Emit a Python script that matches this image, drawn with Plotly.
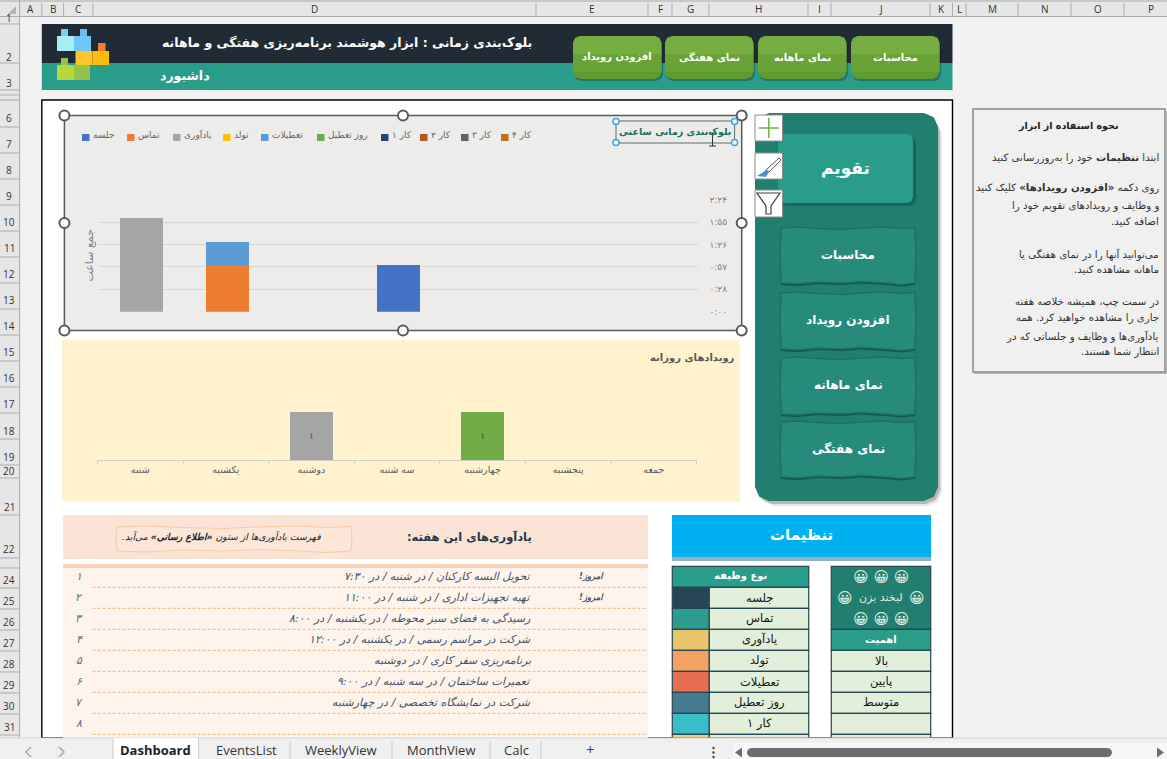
import plotly.graph_objects as go

W, H = 1167, 759
FONT = "DejaVu Sans"
UI_FONT = "Open Sans"
RLM = '\u200f'

# chart data
days = ['شنبه', 'یکشنبه', 'دوشنبه', 'سه شنبه', 'چهارشنبه', 'پنجشنبه', 'جمعه']
series_names = ['جلسه', 'تماس', 'یادآوری', 'تولد', 'تعطیلات', 'روز تعطیل', 'کار ۱', 'کار ۲', 'کار ۳', 'کار ۴']
series_colors = ['#4472c4', '#ed7d31', '#a5a5a5', '#ffc000', '#5b9bd5', '#70ad47', '#264478', '#b25c22', '#636363', '#b9721f']
meeting_hours = [0, 0, 0, 1, 0, 0, 0]
contact_hours = [0, 1, 0, 0, 0, 0, 0]
reminder_hours = [2, 0, 0, 0, 0, 0, 0]
birthday_hours = [0, 0, 0, 0, 0, 0, 0]
holidays_hours = [0, 0.5, 0, 0, 0, 0, 0]
dayoff_hours = [0, 0, 0, 0, 0, 0, 0]
work1_hours = [0, 0, 0, 0, 0, 0, 0]
work2_hours = [0, 0, 0, 0, 0, 0, 0]
work3_hours = [0, 0, 0, 0, 0, 0, 0]
work4_hours = [0, 0, 0, 0, 0, 0, 0]
hour_ticks = [0, 0.48, 0.96, 1.44, 1.92, 2.4]
hour_labels = ['۰:۰۰', '۰:۲۸', '۰:۵۷', '۱:۲۶', '۱:۵۵', '۲:۲۴']
daily_reminder = [None, None, 1, None, None, None, None]
daily_dayoff = [None, None, None, None, 1, None, None]

# sheet text
col_names = ['A', 'B', 'C', 'D', 'E', 'F', 'G', 'H', 'I', 'J', 'K', 'L', 'M', 'N', 'O', 'P']
col_edges = [19.6, 41.8, 63.6, 93, 536, 648, 672, 709, 808, 831, 930, 952.5, 966, 1018, 1071, 1124, 1177]
row_names = ['1', '2', '3', '6', '7', '8', '9', '10', '11', '12', '13', '14', '15', '16', '17', '18', '19', '20', '21', '22', '24', '25', '26', '27', '28', '29', '30', '31']
row_label_y = [18, 57, 83, 118, 144, 170, 196, 222, 248, 274, 300, 326, 352, 378, 404, 431, 457, 471, 507, 549, 580, 601, 622, 643, 664, 685, 706, 727]
row_edges = [24, 63, 90, 95, 100, 127, 153, 179, 205, 231, 257, 283, 309, 335, 361, 387, 413, 439, 465, 478, 515, 558, 568, 588, 609, 630, 651, 672, 693, 714, 735]
nav_labels = ['محاسبات', 'نمای ماهانه', 'نمای هفتگی', 'افزودن رویداد']
nav_left = [851, 758, 665, 573]
side_labels = ['محاسبات', 'افزودن رویداد', 'نمای ماهانه', 'نمای هفتگی']
side_top = [227, 292, 357, 421]
side_bottom = [283, 349, 414, 477]
help_lines = [
    (158, 'ابتدا <b>تنظیمات</b> خود را به‌روزرسانی کنید'),
    (188, 'روی دکمه <b>«افزودن رویدادها»</b> کلیک کنید'),
    (206, 'و وظایف و رویدادهای تقویم خود را'),
    (222, 'اضافه کنید.' + RLM),
    (254, 'می‌توانید آنها را در نمای هفتگی یا'),
    (270, 'ماهانه مشاهده کنید.' + RLM),
    (302, 'در سمت چپ، همیشه خلاصه هفته'),
    (318, 'جاری را مشاهده خواهید کرد. همه'),
    (336, 'یادآوری‌ها و وظایف و جلساتی که در'),
    (352, 'انتظار شما هستند.' + RLM),
]
reminders = [
    'تحویل البسه کارکنان / در شنبه / در ۷:۳۰',
    'تهیه تجهیزات اداری / در شنبه / در ۱۱:۰۰',
    'رسیدگی به فضای سبز محوطه / در یکشنبه / در ۸:۰۰',
    'شرکت در مراسم رسمی / در یکشنبه / در ۱۲:۰۰',
    'برنامه‌ریزی سفر کاری / در دوشنبه',
    'تعمیرات ساختمان / در سه شنبه / در ۹:۰۰',
    'شرکت در نمایشگاه تخصصی / در چهارشنبه',
    '',
]
reminder_nums = ['۱', '۲', '۳', '۴', '۵', '۶', '۷', '۸']
task_types = ['جلسه', 'تماس', 'یادآوری', 'تولد', 'تعطیلات', 'روز تعطیل', 'کار ۱', '']
task_colors = ['#264653', '#2a9d8f', '#e9c46a', '#f4a261', '#e76f51', '#457b8f', '#38bec9', '#f5cd8a']
importance = ['بالا', 'پایین', 'متوسط', '', '']
tab_names = ['EventsList', 'WeeklyView', 'MonthView', 'Calc']
tab_centers = [246, 341, 441, 516]


def px(x):
    return x / W


def py(y):
    return 1 - y / H


shapes = []
annos = []


def rect(x0, y0, x1, y1, fill=None, line=None, w=1, dash=None):
    shapes.append(dict(type='rect', xref='paper', yref='paper', x0=px(x0), x1=px(x1), y0=py(y0), y1=py(y1),
                       fillcolor=fill or 'rgba(0,0,0,0)',
                       line=dict(color=line or 'rgba(0,0,0,0)', width=w if line else 0, dash=dash or 'solid'),
                       layer='below'))


def hline(x0, x1, y, color, w=1, dash='solid'):
    shapes.append(dict(type='line', xref='paper', yref='paper', x0=px(x0), x1=px(x1), y0=py(y), y1=py(y),
                       line=dict(color=color, width=w, dash=dash), layer='below'))


def vline(x, y0, y1, color, w=1):
    shapes.append(dict(type='line', xref='paper', yref='paper', x0=px(x), x1=px(x), y0=py(y0), y1=py(y1),
                       line=dict(color=color, width=w), layer='below'))


def path(points, fill=None, line=None, w=1, close=True):
    # points are in page pixels, the path has to be in plot fractions
    d = 'M ' + ' L '.join('%.5f,%.5f' % (px(a), py(b)) for a, b in points)
    if close:
        d += ' Z'
    shapes.append(dict(type='path', xref='paper', yref='paper', path=d, fillcolor=fill or 'rgba(0,0,0,0)',
                       line=dict(color=line or 'rgba(0,0,0,0)', width=w if line else 0), layer='below'))


def rrect(x0, y0, x1, y1, r, fill, line=None, w=1):
    path([(x0 + r, y0), (x1 - r, y0), (x1 - r * 0.3, y0 + r * 0.3), (x1, y0 + r), (x1, y1 - r), (x1 - r * 0.3, y1 - r * 0.3),
          (x1 - r, y1), (x0 + r, y1), (x0 + r * 0.3, y1 - r * 0.3), (x0, y1 - r), (x0, y0 + r), (x0 + r * 0.3, y0 + r * 0.3)],
         fill, line, w)


def wavy(x0, y0, x1, y1, fill, line, w=1):
    # rough hand-drawn edge like the Excel bevelled shapes
    xs = [0, .12, .28, .45, .6, .78, .9, 1]
    top = [1, 0, 1.5, 2.5, 1, 0, 1.5, 0.5]
    bot = [0, 1.5, 0, -1.5, 0, -1, 1, 0]
    pts = [(x0 + (x1 - x0) * a, y0 + b) for a, b in zip(xs, top)]
    pts += [(x1 + 1, y0 + (y1 - y0) * .5), ]
    pts += [(x0 + (x1 - x0) * a, y1 + b) for a, b in zip(xs[::-1], bot)]
    pts += [(x0 - 1, y0 + (y1 - y0) * .5)]
    path(pts, fill, line, w)


def circle(cx, cy, r, fill, line, w):
    shapes.append(dict(type='circle', xref='paper', yref='paper', x0=px(cx - r), x1=px(cx + r), y0=py(cy - r), y1=py(cy + r),
                       fillcolor=fill, line=dict(color=line, width=w), layer='below'))


def txt(x, y, s, size=10, color='#000000', anchor='center', font=FONT, angle=0):
    annos.append(dict(xref='paper', yref='paper', x=px(x), y=py(y), text=s, showarrow=False, xanchor=anchor, yanchor='middle',
                      font=dict(family=font, size=size, color=color), textangle=angle, align=anchor if anchor != 'center' else 'center',
                      borderpad=0))


# sheet background and headers
rect(0, 0, W, H, '#f2f2f2')
rect(41.8, 100, 952.5, 738, '#ffffff', '#000000', 1.4)
rect(0, 0, W, 16.5, '#e6e6e6')
rect(0, 0, 19.6, H, '#e6e6e6')
hline(0, W, 1, '#c8c8c8', 2)
hline(0, W, 16.5, '#ababab', 1)
vline(19.6, 0, 738, '#ababab', 1)
path([(16, 6), (16, 14), (8, 14)], '#b4b4b4')
for i in range(len(col_names)):
    vline(col_edges[i + 1], 3, 16, '#ababab', 1)
    txt((col_edges[i] + col_edges[i + 1]) / 2, 9, col_names[i], 10, '#333333', font=UI_FONT)
for e in row_edges:
    hline(0, 19.6, e, '#ababab', 1)
for n, y in zip(row_names, row_label_y):
    txt(9, y, n, 10, '#333333', font=UI_FONT)

# banner
rect(41.8, 24, 952.5, 63, '#212b36')
rect(41.8, 63, 952.5, 90, '#2a9d8a')
txt(533, 43, '<b>بلوک‌بندی زمانی : ابزار هوشمند برنامه‌ریزی هفتگی و ماهانه</b>', 12.5, '#ffffff', 'right')
txt(211, 76, '<b>داشبورد</b>', 12.5, '#ffffff', 'right')
# logo blocks
rect(61, 29, 68, 36, '#76cdf5')
rect(80, 29, 87, 36, '#6bbfe8')
rect(57, 36, 74, 51, '#a8ecf5')
rect(74, 36, 91, 51, '#70c6f4')
rect(98, 43, 105.5, 51, '#f08030')
rect(75.5, 51, 92.5, 65, '#fcc52c')
rect(92.5, 51, 109, 65, '#fbbd0b')
rect(61, 58, 68, 65, '#92c44a')
rect(57, 65, 74, 80, '#b6d838')
rect(74, 65, 90, 80, '#92c44a')
# nav buttons
for label, left in zip(nav_labels, nav_left):
    rrect(left + 1, 38, left + 90, 81, 7, 'rgba(0,0,0,0.25)')
    rrect(left, 36, left + 88.5, 79, 7, '#5f9b31')
    rrect(left, 36, left + 88.5, 62, 7, '#74ad40')
    rect(left, 54, left + 88.5, 72, '#69a338')
    txt(left + 44, 57, '<b>' + label + '</b>', 10, '#ffffff')

# first chart frame
rect(64.4, 115.5, 741.7, 330.5, '#edecea', '#595959', 1.5)
handle_x = [64.4, 403, 741.7]
handle_y = [115.5, 223, 330.5]
for hx in handle_x:
    for hy in handle_y:
        if hx == 403 and hy == 223:
            continue
        circle(hx, hy, 5, '#ffffff', '#595959', 2)
# legend, right to left like the sheet
legend_keys = [82, 127, 173, 223, 261, 317, 381, 420, 461, 501]
for name, color, kx in zip(series_names, series_colors, legend_keys):
    rect(kx, 134, kx + 7.5, 141, color)
    txt(kx + 10, 135, name, 9, '#666666', 'left')
txt(88.5, 256, 'جمع ساعت', 11, '#7f7f7f', angle=-90)
# selected title box
rect(616, 121, 734.6, 143, '#edecea', '#5f6b6b', 1)
txt(675, 132, '<b>بلوک‌بندی زمانی ساعتی</b>', 9.5, '#1c6f62')
for hx in [616, 734.6]:
    for hy in [121.5, 142.5]:
        circle(hx, hy, 3, '#ffffff', '#3ba3e6', 1.5)
vline(712.5, 133, 146, '#333333', 1)
hline(709, 716, 133, '#333333', 1)
hline(709, 716, 146, '#333333', 1)

# yellow chart background
rect(62, 340, 739.7, 501.7, '#fff2cc')
txt(736, 358, '<b>رویدادهای روزانه</b>', 10, '#595959', 'right')

# side panel
rrect(760, 120, 942, 506, 14, 'rgba(0,0,0,0.1)')
rrect(758, 117, 940, 504, 14, 'rgba(0,0,0,0.2)')
rrect(755, 113, 938, 501, 14, '#237e72')
rrect(780, 137, 916, 206, 6, 'rgba(0,0,0,0.2)')
rrect(778, 134, 913, 203, 6, '#2a9d8a')
txt(846, 168, '<b>تقویم</b>', 17, '#ffffff')
for label, top, bottom in zip(side_labels, side_top, side_bottom):
    wavy(781, top + 2, 915, bottom + 2, '#16544b', None)
    wavy(781, top, 915, bottom, '#278b7b', '#1f6f63', 1.5)
    txt(848, (top + bottom) / 2, '<b>' + label + '</b>', 12, '#ffffff')
# chart tool icons
rect(755, 115, 782.5, 141, '#ffffff', '#8c8c8c', 1)
rect(755, 153, 782.5, 179, '#ffffff', '#8c8c8c', 1)
rect(755, 190, 782.5, 217, '#ffffff', '#8c8c8c', 1)
hline(758.5, 779, 128, '#70ad47', 1.5)
vline(768.8, 118, 138, '#70ad47', 1.5)
path([(779, 158), (781, 160), (769, 172), (766, 170)], '#ffffff', '#595959', 1)
path([(766, 170), (769, 172), (766, 177), (757, 176), (762, 173)], '#4a90d9')
path([(757, 193), (780, 193), (771, 206), (771, 214), (766, 214), (766, 206)], '#ffffff', '#404040', 1.2)

# help box on the right
rect(974, 111, 1167, 374, '#b5b5b5')
rect(973, 109, 1165, 372, '#f0f0f0', '#a0a0a0', 2)
txt(1068, 126, '<b>نحوه استفاده از ابزار</b>', 9.5, '#222222')
for y, line in help_lines:
    txt(1160, y, line, 10.2, '#333333', 'right')

# reminders block
rect(63, 515, 648, 559, '#fbe4d5')
wavy(117, 526, 351, 551, '#fbe6d8', '#f8cba0', 1)
txt(221, 537, '<i>فهرست یادآوری‌ها از ستون <b>«اطلاع رسانی»</b> می‌آید.' + RLM + '</i>', 9.3, '#222222')
txt(533, 537, '<b>یادآوری‌های این هفته:' + RLM + '</b>', 11.5, '#1f3a4d', 'right')
rect(63, 565, 648, 738, '#fef4ec')
hline(63, 648, 565, '#f4b183', 1)
hline(63, 648, 567, '#f4b183', 1)
for i in range(8):
    y = 576 + 21 * i
    hline(92.6, 647, y + 11.3, '#f4b183', 1, '3px,2px')
    txt(79, y, '<i>' + reminder_nums[i] + '</i>', 11, '#5b6b80')
    if reminders[i]:
        txt(532.4, y, '<i>' + reminders[i] + '</i>', 11, '#44546a', 'right')
for i in [0, 1]:
    txt(591, 576 + 21 * i, '<b><i>امروز!' + RLM + '</i></b>', 8.5, '#44546a')

# settings block
rect(672, 515, 931, 557, '#00b0f0')
hline(672, 931, 558, '#1f6a80', 1)
hline(672, 931, 560, '#1f6a80', 1)
txt(801, 535, '<b>تنظیمات</b>', 15, '#ffffff')
table_line = '#264653'
rect(672.3, 566.3, 808.7, 587.3, '#2a9d8a', table_line, 1.2)
txt(740, 576, '<b>نوع وظیفه</b>', 10, '#ffffff')
for i in range(len(task_types)):
    y0 = 587.3 + 21 * i
    y1 = min(y0 + 21, 738)
    rect(672.3, y0, 709.3, y1, task_colors[i], table_line, 1.2)
    rect(709.3, y0, 808.7, y1, '#e2efda', table_line, 1.2)
    if task_types[i]:
        txt(759, y0 + 10.5, task_types[i], 11.5, '#111111')
rect(831.3, 566.3, 930.7, 629.3, '#237e72', table_line, 1.2)
txt(881, 576.5, '😀 😀 😀', 15, '#e2efda')
txt(881, 597.5, 'لبخند بزن', 11, '#e2efda')
txt(845, 597.5, '😀', 15, '#e2efda')
txt(917, 597.5, '😀', 15, '#e2efda')
txt(881, 618.5, '😀 😀 😀', 15, '#e2efda')
rect(831.3, 629.3, 930.7, 650.3, '#2a9d8a', table_line, 1.2)
txt(881, 639.5, '<b>اهمیت</b>', 10, '#ffffff')
for i in range(len(importance)):
    y0 = 650.3 + 21 * i
    y1 = min(y0 + 21, 738)
    rect(831.3, y0, 930.7, y1, '#e2efda', table_line, 1.2)
    if importance[i]:
        txt(881, y0 + 10.5, importance[i], 11.5, '#111111')

# sheet tabs and scrollbar
rect(0, 738, W, H, '#f0f0f0')
hline(0, W, 738, '#d4d4d4', 1)
rect(113, 738, 198.6, H, '#ffffff')
vline(113, 738, H, '#cccccc', 1)
vline(198.6, 738, H, '#cccccc', 1)
txt(155, 749.5, '<b>Dashboard</b>', 13, '#222222', font=UI_FONT)
for name, cx in zip(tab_names, tab_centers):
    txt(cx, 749.5, name, 13, '#333333', font=UI_FONT)
for x in [290, 392, 490, 541]:
    vline(x, 741, H, '#cccccc', 1)
txt(590, 749, '+', 15, '#444444', font=UI_FONT)
path([(31, 747), (26, 752), (31, 757)], None, '#a8a8a8', 1.5, close=False)
path([(59, 747), (64, 752), (59, 757)], None, '#a8a8a8', 1.5, close=False)
for y in [748, 752.5, 757]:
    circle(713.5, y, 1, '#444444', '#444444', 0.5)
rect(733, 743, W, H, '#f7f7f7')
rrect(747, 748, 1112, 757, 4, '#6e6e6e')
path([(742, 747.5), (742, 757.5), (735, 752.5)], '#6e6e6e')
path([(1157, 747.5), (1157, 757.5), (1164, 752.5)], '#6e6e6e')

fig = go.Figure()
hour_series = [meeting_hours, contact_hours, reminder_hours, birthday_hours, holidays_hours,
               dayoff_hours, work1_hours, work2_hours, work3_hours, work4_hours]
for name, color, vals in zip(series_names, series_colors, hour_series):
    fig.add_trace(go.Bar(x=days, y=vals, name=name, marker=dict(color=color, line=dict(width=0)),
                         xaxis='x', yaxis='y', showlegend=False))
for name, color, vals in [('یادآوری', '#a5a5a5', daily_reminder), ('روز تعطیل', '#70ad47', daily_dayoff)]:
    labels = ['۱' if v else '' for v in vals]
    fig.add_trace(go.Bar(x=days, y=vals, name=name, marker=dict(color=color, line=dict(width=0)), text=labels,
                         textposition='inside', insidetextanchor='middle', textangle=0,
                         textfont=dict(family=FONT, size=9, color='#404040'),
                         xaxis='x2', yaxis='y2', showlegend=False))

fig.update_layout(
    width=W, height=H, margin=dict(l=0, r=0, t=0, b=0, pad=0, autoexpand=False),
    paper_bgcolor='#f2f2f2', plot_bgcolor='rgba(0,0,0,0)',
    barmode='stack', bargap=0.5, showlegend=False, font=dict(family=FONT),
    shapes=shapes, annotations=annos,
    xaxis=dict(domain=[px(99), px(697.5)], anchor='y', showticklabels=False, ticks='', showgrid=False, zeroline=False,
               categoryorder='array', categoryarray=days),
    yaxis=dict(domain=[py(311.7), py(199.7)], anchor='x', side='right', range=[0, 2.4], tickvals=hour_ticks, ticktext=hour_labels,
               showgrid=True, gridcolor='#d6d6d4', gridwidth=1, zeroline=False, showline=False, ticks='',
               tickfont=dict(family=FONT, size=9, color='#7f7f7f'), ticklabelstandoff=11),
    xaxis2=dict(domain=[px(97.4), px(696.6)], anchor='y2', showgrid=False, zeroline=False, showline=True, linecolor='#d0cfc8', linewidth=1,
                ticks='outside', ticklen=3, tickcolor='#d0cfc8', tickson='boundaries',
                tickfont=dict(family=FONT, size=9.5, color='#595959'),
                categoryorder='array', categoryarray=days),
    yaxis2=dict(domain=[py(460.3), py(364)], anchor='x2', range=[0, 2], visible=False),
)

fig.write_html("out.html", config={'displayModeBar': False},
               post_script="document.body.style.margin='0';document.body.style.overflow='hidden';")
